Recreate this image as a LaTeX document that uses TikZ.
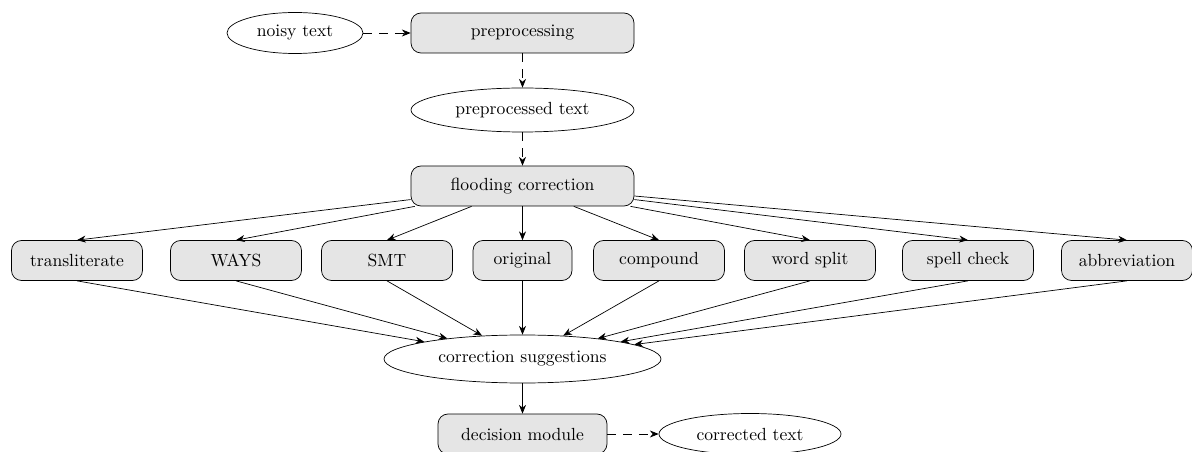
\documentclass[tikz,border=0pt]{standalone}
\usepackage{amsmath}
\usepackage{amssymb}
\usepackage{tikz}
\usetikzlibrary{shapes.geometric,arrows.meta}

\begin{document}
\begin{tikzpicture}[>={Stealth[length=5pt,width=4pt]},
    box/.style={draw,fill=black!10,rounded corners=0.2cm,minimum height=0.8cm,minimum width=2.62cm,inner sep=0},
    txt/.style={draw,ellipse,inner sep=0},
    dsh/.style={->,dash pattern=on 5pt off 4pt}]
        \useasboundingbox (0,0) rectangle (23.84,-9.04);
        \node[txt,minimum width=2.72cm,minimum height=0.82cm] (noisy) at (5.90,-0.66) {noisy text};
        \node[box,minimum width=4.46cm] (pre) at (10.45,-0.66) {preprocessing};
        \node[txt,minimum width=4.46cm,minimum height=0.88cm] (preed) at (10.45,-2.20) {preprocessed text};
        \node[box,minimum width=4.46cm] (flood) at (10.45,-3.72) {flooding correction};
        \node[box] (t1) at (1.54,-5.21) {transliterate};
        \node[box] (t2) at (4.72,-5.21) {WAYS};
        \node[box] (t3) at (7.74,-5.21) {SMT};
        \node[box,minimum width=1.98cm] (t4) at (10.45,-5.21) {original};
        \node[box] (t5) at (13.18,-5.21) {compound};
        \node[box] (t6) at (16.20,-5.21) {word split};
        \node[box] (t7) at (19.36,-5.21) {spell check};
        \node[box] (t8) at (22.54,-5.21) {abbreviation};
        \node[txt,minimum width=5.54cm,minimum height=0.96cm] (sugg) at (10.45,-7.18) {correction suggestions};
        \node[box,minimum width=3.38cm] (dec) at (10.45,-8.68) {decision module};
        \node[txt,minimum width=3.64cm,minimum height=0.82cm] (out) at (15.00,-8.68) {corrected text};
        \draw[dsh] (noisy) -- (pre);
        \draw[dsh] (pre) -- (preed);
        \draw[dsh] (preed) -- (flood);
        \draw[->] (flood) -- (t1.north);
        \draw[->] (flood) -- (t2.north);
        \draw[->] (flood) -- (t3.north);
        \draw[->] (flood) -- (t4.north);
        \draw[->] (flood) -- (t5.north);
        \draw[->] (flood) -- (t6.north);
        \draw[->] (flood) -- (t7.north);
        \draw[->] (flood) -- (t8.north);
        \draw[->] (t1.south) -- (sugg);
        \draw[->] (t2.south) -- (sugg);
        \draw[->] (t3.south) -- (sugg);
        \draw[->] (t4.south) -- (sugg);
        \draw[->] (t5.south) -- (sugg);
        \draw[->] (t6.south) -- (sugg);
        \draw[->] (t7.south) -- (sugg);
        \draw[->] (t8.south) -- (sugg);
        \draw[->] (sugg) -- (dec);
        \draw[dsh] (dec) -- (out);
      \end{tikzpicture}
\end{document}
